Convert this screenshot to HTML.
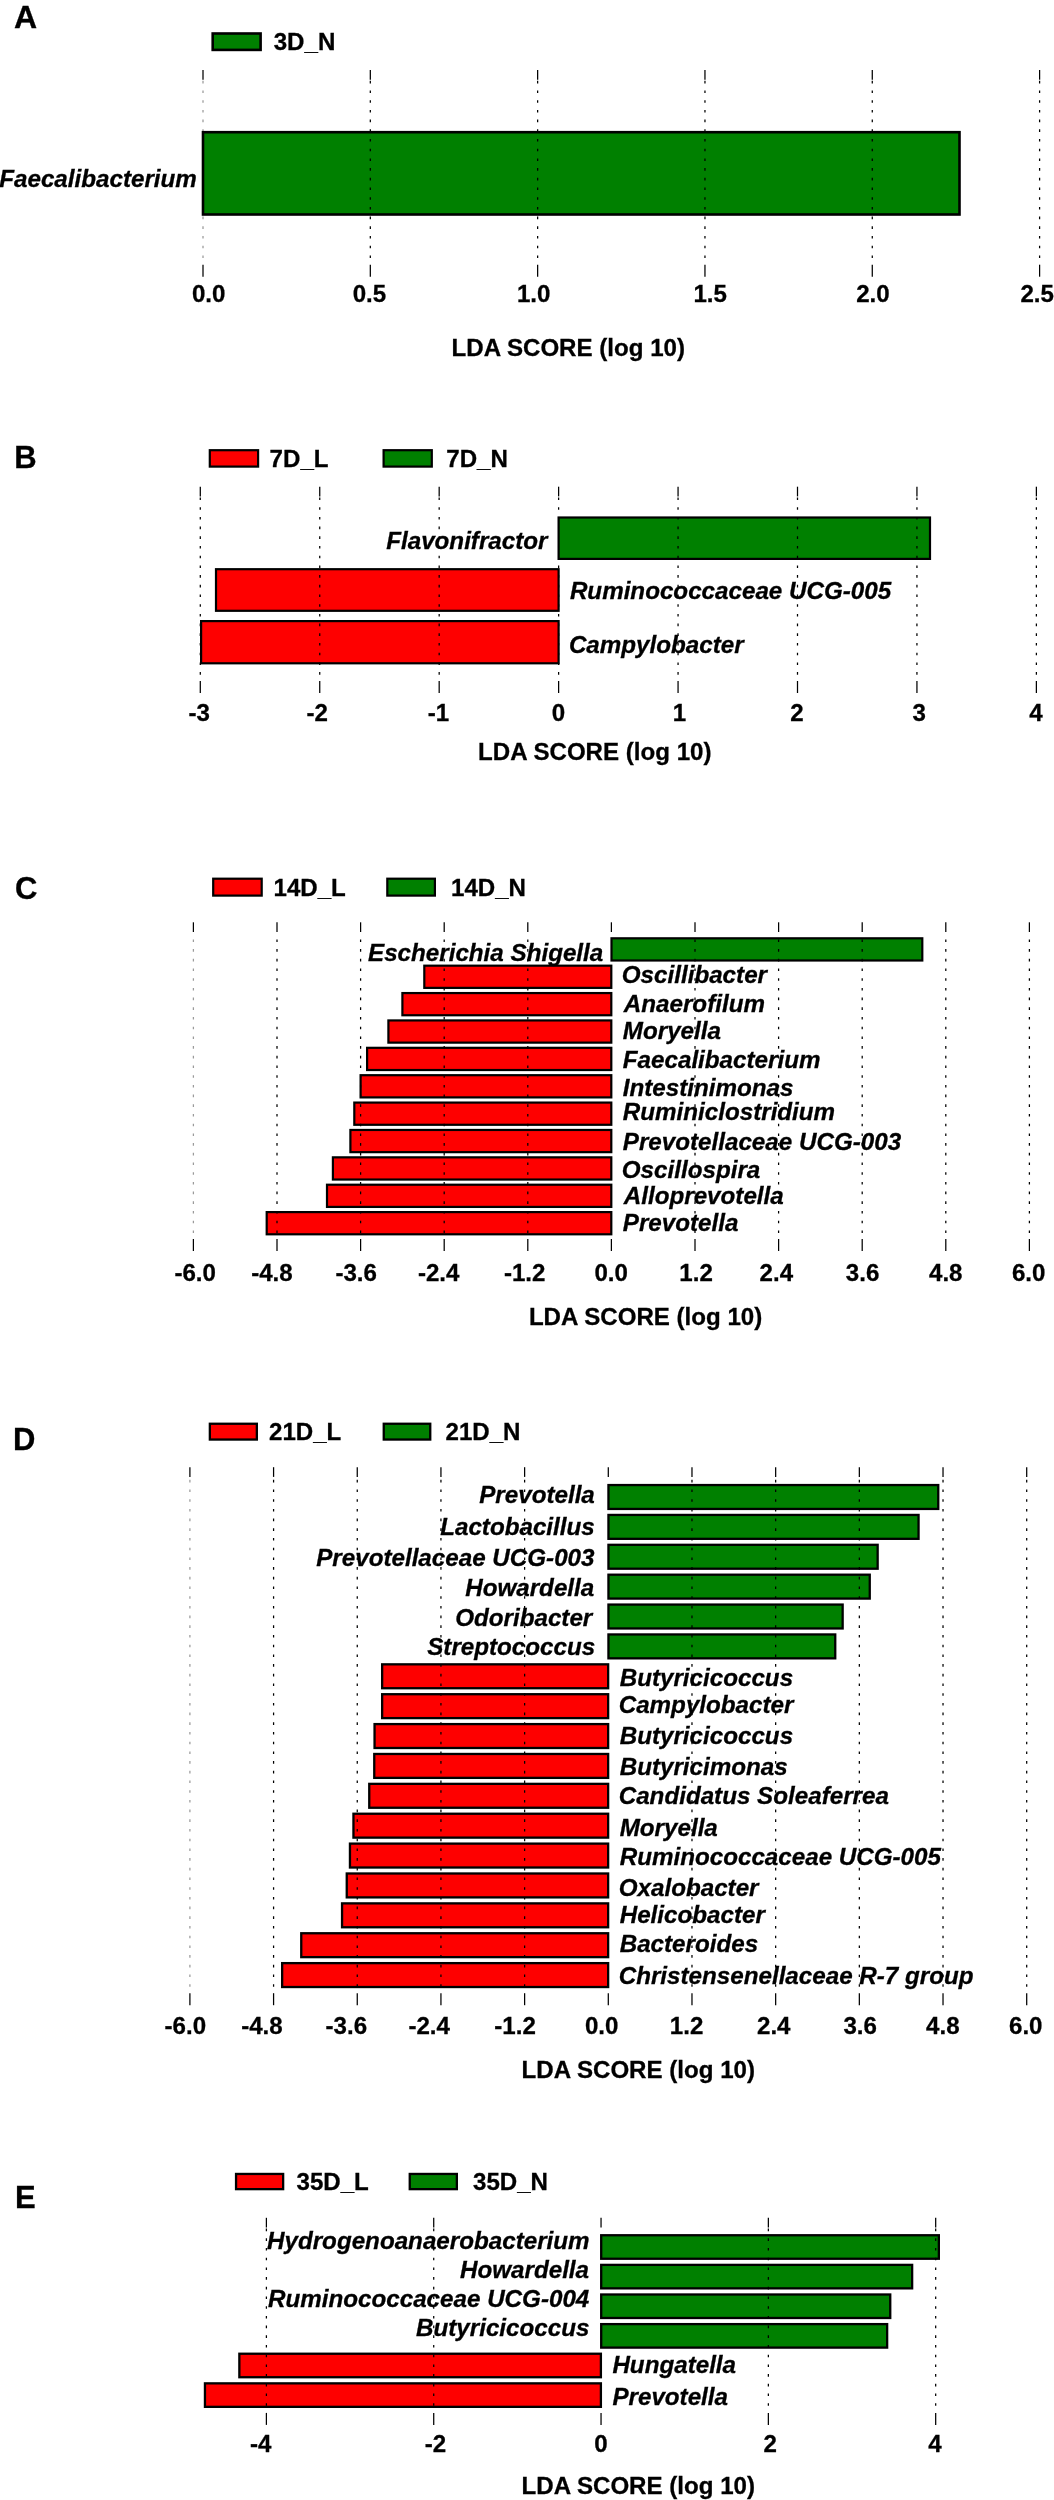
<!DOCTYPE html>
<html><head><meta charset="utf-8"><title>LDA effect size plots</title>
<style>html,body{margin:0;padding:0;background:#fff;width:1054px;height:2500px;overflow:hidden}
svg{display:block;will-change:transform}
text{font-family:"Liberation Sans",sans-serif;font-weight:bold;fill:#000;stroke:#000;stroke-width:0.3px;}
</style></head><body>
<svg width="1054" height="2500" viewBox="0 0 1054 2500">
<rect width="1054" height="2500" fill="#fff"/>
<rect x="212.70" y="33.50" width="47.90" height="16.40" fill="#008000" stroke="#000" stroke-width="2.6"/>
<rect x="209.80" y="450.20" width="48.30" height="16.40" fill="#fe0000" stroke="#000" stroke-width="2.2"/>
<rect x="383.60" y="450.20" width="48.20" height="16.40" fill="#008000" stroke="#000" stroke-width="2.2"/>
<rect x="213.20" y="878.70" width="48.50" height="16.90" fill="#fe0000" stroke="#000" stroke-width="2.2"/>
<rect x="387.30" y="878.70" width="47.60" height="16.90" fill="#008000" stroke="#000" stroke-width="2.2"/>
<rect x="209.85" y="1423.75" width="47.00" height="15.80" fill="#fe0000" stroke="#000" stroke-width="2.3"/>
<rect x="383.75" y="1423.75" width="46.50" height="15.80" fill="#008000" stroke="#000" stroke-width="2.3"/>
<rect x="236.05" y="2173.95" width="47.10" height="15.20" fill="#fe0000" stroke="#000" stroke-width="2.3"/>
<rect x="409.75" y="2173.95" width="47.10" height="15.20" fill="#008000" stroke="#000" stroke-width="2.3"/>
<line x1="203.00" y1="80.80" x2="203.00" y2="264.70" stroke="#9a9a9a" stroke-width="1.25" stroke-dasharray="2.6 7.1"/>
<line x1="558.62" y1="497.50" x2="558.62" y2="681.00" stroke="#000" stroke-width="1.25" stroke-dasharray="2.6 7.1"/>
<rect x="203.00" y="132.20" width="756.50" height="82.30" fill="#008000" stroke="#000" stroke-width="2.6"/>
<rect x="558.60" y="517.50" width="371.40" height="41.40" fill="#008000" stroke="#000" stroke-width="2.2"/>
<rect x="216.00" y="569.20" width="342.60" height="41.60" fill="#fe0000" stroke="#000" stroke-width="2.2"/>
<rect x="201.10" y="621.10" width="357.50" height="42.20" fill="#fe0000" stroke="#000" stroke-width="2.2"/>
<rect x="611.50" y="938.30" width="310.80" height="22.20" fill="#008000" stroke="#000" stroke-width="2.2"/>
<rect x="424.30" y="965.68" width="187.00" height="22.20" fill="#fe0000" stroke="#000" stroke-width="2.2"/>
<rect x="402.40" y="993.06" width="208.90" height="22.20" fill="#fe0000" stroke="#000" stroke-width="2.2"/>
<rect x="388.40" y="1020.44" width="222.90" height="22.20" fill="#fe0000" stroke="#000" stroke-width="2.2"/>
<rect x="367.10" y="1047.82" width="244.20" height="22.20" fill="#fe0000" stroke="#000" stroke-width="2.2"/>
<rect x="360.60" y="1075.20" width="250.70" height="22.20" fill="#fe0000" stroke="#000" stroke-width="2.2"/>
<rect x="354.30" y="1102.58" width="257.00" height="22.20" fill="#fe0000" stroke="#000" stroke-width="2.2"/>
<rect x="350.40" y="1129.96" width="260.90" height="22.20" fill="#fe0000" stroke="#000" stroke-width="2.2"/>
<rect x="332.90" y="1157.34" width="278.40" height="22.20" fill="#fe0000" stroke="#000" stroke-width="2.2"/>
<rect x="327.00" y="1184.72" width="284.30" height="22.20" fill="#fe0000" stroke="#000" stroke-width="2.2"/>
<rect x="266.70" y="1212.10" width="344.60" height="22.20" fill="#fe0000" stroke="#000" stroke-width="2.2"/>
<rect x="608.45" y="1485.05" width="329.80" height="23.90" fill="#008000" stroke="#000" stroke-width="2.3"/>
<rect x="608.45" y="1514.93" width="310.10" height="23.90" fill="#008000" stroke="#000" stroke-width="2.3"/>
<rect x="608.45" y="1544.81" width="269.20" height="23.90" fill="#008000" stroke="#000" stroke-width="2.3"/>
<rect x="608.45" y="1574.69" width="261.30" height="23.90" fill="#008000" stroke="#000" stroke-width="2.3"/>
<rect x="608.45" y="1604.57" width="234.20" height="23.90" fill="#008000" stroke="#000" stroke-width="2.3"/>
<rect x="608.45" y="1634.45" width="226.80" height="23.90" fill="#008000" stroke="#000" stroke-width="2.3"/>
<rect x="382.15" y="1664.33" width="226.00" height="23.90" fill="#fe0000" stroke="#000" stroke-width="2.3"/>
<rect x="382.15" y="1694.21" width="226.00" height="23.90" fill="#fe0000" stroke="#000" stroke-width="2.3"/>
<rect x="374.55" y="1724.09" width="233.60" height="23.90" fill="#fe0000" stroke="#000" stroke-width="2.3"/>
<rect x="374.25" y="1753.97" width="233.90" height="23.90" fill="#fe0000" stroke="#000" stroke-width="2.3"/>
<rect x="369.25" y="1783.85" width="238.90" height="23.90" fill="#fe0000" stroke="#000" stroke-width="2.3"/>
<rect x="353.45" y="1813.73" width="254.70" height="23.90" fill="#fe0000" stroke="#000" stroke-width="2.3"/>
<rect x="349.95" y="1843.61" width="258.20" height="23.90" fill="#fe0000" stroke="#000" stroke-width="2.3"/>
<rect x="346.75" y="1873.49" width="261.40" height="23.90" fill="#fe0000" stroke="#000" stroke-width="2.3"/>
<rect x="342.05" y="1903.37" width="266.10" height="23.90" fill="#fe0000" stroke="#000" stroke-width="2.3"/>
<rect x="301.25" y="1933.25" width="306.90" height="23.90" fill="#fe0000" stroke="#000" stroke-width="2.3"/>
<rect x="282.15" y="1963.13" width="326.00" height="23.90" fill="#fe0000" stroke="#000" stroke-width="2.3"/>
<rect x="601.19" y="2235.25" width="337.66" height="23.50" fill="#008000" stroke="#000" stroke-width="2.3"/>
<rect x="601.19" y="2264.87" width="310.96" height="23.50" fill="#008000" stroke="#000" stroke-width="2.3"/>
<rect x="601.19" y="2294.49" width="289.06" height="23.50" fill="#008000" stroke="#000" stroke-width="2.3"/>
<rect x="601.19" y="2324.11" width="285.96" height="23.50" fill="#008000" stroke="#000" stroke-width="2.3"/>
<rect x="239.35" y="2353.73" width="361.54" height="23.50" fill="#fe0000" stroke="#000" stroke-width="2.3"/>
<rect x="204.95" y="2383.35" width="395.94" height="23.50" fill="#fe0000" stroke="#000" stroke-width="2.3"/>
<line x1="203.00" y1="70.00" x2="203.00" y2="79.70" stroke="#000" stroke-width="1.25"/>
<line x1="203.00" y1="264.70" x2="203.00" y2="276.70" stroke="#000" stroke-width="1.25"/>
<line x1="370.32" y1="70.00" x2="370.32" y2="79.70" stroke="#000" stroke-width="1.25"/>
<line x1="370.32" y1="264.70" x2="370.32" y2="276.70" stroke="#000" stroke-width="1.25"/>
<line x1="370.32" y1="80.80" x2="370.32" y2="264.70" stroke="#000" stroke-width="1.25" stroke-dasharray="2.6 7.1"/>
<line x1="537.64" y1="70.00" x2="537.64" y2="79.70" stroke="#000" stroke-width="1.25"/>
<line x1="537.64" y1="264.70" x2="537.64" y2="276.70" stroke="#000" stroke-width="1.25"/>
<line x1="537.64" y1="80.80" x2="537.64" y2="264.70" stroke="#000" stroke-width="1.25" stroke-dasharray="2.6 7.1"/>
<line x1="704.96" y1="70.00" x2="704.96" y2="79.70" stroke="#000" stroke-width="1.25"/>
<line x1="704.96" y1="264.70" x2="704.96" y2="276.70" stroke="#000" stroke-width="1.25"/>
<line x1="704.96" y1="80.80" x2="704.96" y2="264.70" stroke="#000" stroke-width="1.25" stroke-dasharray="2.6 7.1"/>
<line x1="872.28" y1="70.00" x2="872.28" y2="79.70" stroke="#000" stroke-width="1.25"/>
<line x1="872.28" y1="264.70" x2="872.28" y2="276.70" stroke="#000" stroke-width="1.25"/>
<line x1="872.28" y1="80.80" x2="872.28" y2="264.70" stroke="#000" stroke-width="1.25" stroke-dasharray="2.6 7.1"/>
<line x1="1039.60" y1="70.00" x2="1039.60" y2="79.70" stroke="#000" stroke-width="1.25"/>
<line x1="1039.60" y1="264.70" x2="1039.60" y2="276.70" stroke="#000" stroke-width="1.25"/>
<line x1="1039.60" y1="80.80" x2="1039.60" y2="264.70" stroke="#000" stroke-width="1.25" stroke-dasharray="2.6 7.1"/>
<line x1="200.30" y1="486.70" x2="200.30" y2="496.40" stroke="#000" stroke-width="1.25"/>
<line x1="200.30" y1="681.00" x2="200.30" y2="693.00" stroke="#000" stroke-width="1.25"/>
<line x1="200.30" y1="497.50" x2="200.30" y2="681.00" stroke="#000" stroke-width="1.25" stroke-dasharray="2.6 7.1"/>
<line x1="319.74" y1="486.70" x2="319.74" y2="496.40" stroke="#000" stroke-width="1.25"/>
<line x1="319.74" y1="681.00" x2="319.74" y2="693.00" stroke="#000" stroke-width="1.25"/>
<line x1="319.74" y1="497.50" x2="319.74" y2="681.00" stroke="#000" stroke-width="1.25" stroke-dasharray="2.6 7.1"/>
<line x1="439.18" y1="486.70" x2="439.18" y2="496.40" stroke="#000" stroke-width="1.25"/>
<line x1="439.18" y1="681.00" x2="439.18" y2="693.00" stroke="#000" stroke-width="1.25"/>
<line x1="439.18" y1="497.50" x2="439.18" y2="681.00" stroke="#000" stroke-width="1.25" stroke-dasharray="2.6 7.1"/>
<line x1="558.62" y1="486.70" x2="558.62" y2="496.40" stroke="#000" stroke-width="1.25"/>
<line x1="558.62" y1="681.00" x2="558.62" y2="693.00" stroke="#000" stroke-width="1.25"/>
<line x1="678.06" y1="486.70" x2="678.06" y2="496.40" stroke="#000" stroke-width="1.25"/>
<line x1="678.06" y1="681.00" x2="678.06" y2="693.00" stroke="#000" stroke-width="1.25"/>
<line x1="678.06" y1="497.50" x2="678.06" y2="681.00" stroke="#000" stroke-width="1.25" stroke-dasharray="2.6 7.1"/>
<line x1="797.50" y1="486.70" x2="797.50" y2="496.40" stroke="#000" stroke-width="1.25"/>
<line x1="797.50" y1="681.00" x2="797.50" y2="693.00" stroke="#000" stroke-width="1.25"/>
<line x1="797.50" y1="497.50" x2="797.50" y2="681.00" stroke="#000" stroke-width="1.25" stroke-dasharray="2.6 7.1"/>
<line x1="916.94" y1="486.70" x2="916.94" y2="496.40" stroke="#000" stroke-width="1.25"/>
<line x1="916.94" y1="681.00" x2="916.94" y2="693.00" stroke="#000" stroke-width="1.25"/>
<line x1="916.94" y1="497.50" x2="916.94" y2="681.00" stroke="#000" stroke-width="1.25" stroke-dasharray="2.6 7.1"/>
<line x1="1036.38" y1="486.70" x2="1036.38" y2="496.40" stroke="#000" stroke-width="1.25"/>
<line x1="1036.38" y1="681.00" x2="1036.38" y2="693.00" stroke="#000" stroke-width="1.25"/>
<line x1="1036.38" y1="497.50" x2="1036.38" y2="681.00" stroke="#000" stroke-width="1.25" stroke-dasharray="2.6 7.1"/>
<line x1="193.40" y1="922.30" x2="193.40" y2="932.00" stroke="#000" stroke-width="1.25"/>
<line x1="193.40" y1="1239.00" x2="193.40" y2="1251.00" stroke="#000" stroke-width="1.25"/>
<line x1="193.40" y1="939.40" x2="193.40" y2="1239.00" stroke="#9a9a9a" stroke-width="1.25" stroke-dasharray="2.6 7.1"/>
<line x1="277.00" y1="922.30" x2="277.00" y2="932.00" stroke="#000" stroke-width="1.25"/>
<line x1="277.00" y1="1239.00" x2="277.00" y2="1251.00" stroke="#000" stroke-width="1.25"/>
<line x1="277.00" y1="939.40" x2="277.00" y2="1239.00" stroke="#000" stroke-width="1.25" stroke-dasharray="2.6 7.1"/>
<line x1="360.60" y1="922.30" x2="360.60" y2="932.00" stroke="#000" stroke-width="1.25"/>
<line x1="360.60" y1="1239.00" x2="360.60" y2="1251.00" stroke="#000" stroke-width="1.25"/>
<line x1="360.60" y1="939.40" x2="360.60" y2="1239.00" stroke="#000" stroke-width="1.25" stroke-dasharray="2.6 7.1"/>
<line x1="444.20" y1="922.30" x2="444.20" y2="932.00" stroke="#000" stroke-width="1.25"/>
<line x1="444.20" y1="1239.00" x2="444.20" y2="1251.00" stroke="#000" stroke-width="1.25"/>
<line x1="444.20" y1="939.40" x2="444.20" y2="1239.00" stroke="#000" stroke-width="1.25" stroke-dasharray="2.6 7.1"/>
<line x1="527.80" y1="922.30" x2="527.80" y2="932.00" stroke="#000" stroke-width="1.25"/>
<line x1="527.80" y1="1239.00" x2="527.80" y2="1251.00" stroke="#000" stroke-width="1.25"/>
<line x1="527.80" y1="939.40" x2="527.80" y2="1239.00" stroke="#000" stroke-width="1.25" stroke-dasharray="2.6 7.1"/>
<line x1="611.40" y1="922.30" x2="611.40" y2="932.00" stroke="#000" stroke-width="1.25"/>
<line x1="611.40" y1="1239.00" x2="611.40" y2="1251.00" stroke="#000" stroke-width="1.25"/>
<line x1="695.00" y1="922.30" x2="695.00" y2="932.00" stroke="#000" stroke-width="1.25"/>
<line x1="695.00" y1="1239.00" x2="695.00" y2="1251.00" stroke="#000" stroke-width="1.25"/>
<line x1="695.00" y1="939.40" x2="695.00" y2="1239.00" stroke="#000" stroke-width="1.25" stroke-dasharray="2.6 7.1"/>
<line x1="778.60" y1="922.30" x2="778.60" y2="932.00" stroke="#000" stroke-width="1.25"/>
<line x1="778.60" y1="1239.00" x2="778.60" y2="1251.00" stroke="#000" stroke-width="1.25"/>
<line x1="778.60" y1="939.40" x2="778.60" y2="1239.00" stroke="#000" stroke-width="1.25" stroke-dasharray="2.6 7.1"/>
<line x1="862.20" y1="922.30" x2="862.20" y2="932.00" stroke="#000" stroke-width="1.25"/>
<line x1="862.20" y1="1239.00" x2="862.20" y2="1251.00" stroke="#000" stroke-width="1.25"/>
<line x1="862.20" y1="939.40" x2="862.20" y2="1239.00" stroke="#000" stroke-width="1.25" stroke-dasharray="2.6 7.1"/>
<line x1="945.80" y1="922.30" x2="945.80" y2="932.00" stroke="#000" stroke-width="1.25"/>
<line x1="945.80" y1="1239.00" x2="945.80" y2="1251.00" stroke="#000" stroke-width="1.25"/>
<line x1="945.80" y1="939.40" x2="945.80" y2="1239.00" stroke="#000" stroke-width="1.25" stroke-dasharray="2.6 7.1"/>
<line x1="1029.40" y1="922.30" x2="1029.40" y2="932.00" stroke="#000" stroke-width="1.25"/>
<line x1="1029.40" y1="1239.00" x2="1029.40" y2="1251.00" stroke="#000" stroke-width="1.25"/>
<line x1="1029.40" y1="939.40" x2="1029.40" y2="1239.00" stroke="#000" stroke-width="1.25" stroke-dasharray="2.6 7.1"/>
<line x1="189.90" y1="1467.20" x2="189.90" y2="1476.90" stroke="#000" stroke-width="1.25"/>
<line x1="189.90" y1="1993.20" x2="189.90" y2="2005.20" stroke="#000" stroke-width="1.25"/>
<line x1="189.90" y1="1479.80" x2="189.90" y2="1993.20" stroke="#9a9a9a" stroke-width="1.25" stroke-dasharray="2.6 7.1"/>
<line x1="273.58" y1="1467.20" x2="273.58" y2="1476.90" stroke="#000" stroke-width="1.25"/>
<line x1="273.58" y1="1993.20" x2="273.58" y2="2005.20" stroke="#000" stroke-width="1.25"/>
<line x1="273.58" y1="1479.80" x2="273.58" y2="1993.20" stroke="#000" stroke-width="1.25" stroke-dasharray="2.6 7.1"/>
<line x1="357.26" y1="1467.20" x2="357.26" y2="1476.90" stroke="#000" stroke-width="1.25"/>
<line x1="357.26" y1="1993.20" x2="357.26" y2="2005.20" stroke="#000" stroke-width="1.25"/>
<line x1="357.26" y1="1479.80" x2="357.26" y2="1993.20" stroke="#000" stroke-width="1.25" stroke-dasharray="2.6 7.1"/>
<line x1="440.94" y1="1467.20" x2="440.94" y2="1476.90" stroke="#000" stroke-width="1.25"/>
<line x1="440.94" y1="1993.20" x2="440.94" y2="2005.20" stroke="#000" stroke-width="1.25"/>
<line x1="440.94" y1="1479.80" x2="440.94" y2="1993.20" stroke="#000" stroke-width="1.25" stroke-dasharray="2.6 7.1"/>
<line x1="524.62" y1="1467.20" x2="524.62" y2="1476.90" stroke="#000" stroke-width="1.25"/>
<line x1="524.62" y1="1993.20" x2="524.62" y2="2005.20" stroke="#000" stroke-width="1.25"/>
<line x1="524.62" y1="1479.80" x2="524.62" y2="1993.20" stroke="#000" stroke-width="1.25" stroke-dasharray="2.6 7.1"/>
<line x1="608.30" y1="1467.20" x2="608.30" y2="1476.90" stroke="#000" stroke-width="1.25"/>
<line x1="608.30" y1="1993.20" x2="608.30" y2="2005.20" stroke="#000" stroke-width="1.25"/>
<line x1="691.98" y1="1467.20" x2="691.98" y2="1476.90" stroke="#000" stroke-width="1.25"/>
<line x1="691.98" y1="1993.20" x2="691.98" y2="2005.20" stroke="#000" stroke-width="1.25"/>
<line x1="691.98" y1="1479.80" x2="691.98" y2="1993.20" stroke="#000" stroke-width="1.25" stroke-dasharray="2.6 7.1"/>
<line x1="775.66" y1="1467.20" x2="775.66" y2="1476.90" stroke="#000" stroke-width="1.25"/>
<line x1="775.66" y1="1993.20" x2="775.66" y2="2005.20" stroke="#000" stroke-width="1.25"/>
<line x1="775.66" y1="1479.80" x2="775.66" y2="1993.20" stroke="#000" stroke-width="1.25" stroke-dasharray="2.6 7.1"/>
<line x1="859.34" y1="1467.20" x2="859.34" y2="1476.90" stroke="#000" stroke-width="1.25"/>
<line x1="859.34" y1="1993.20" x2="859.34" y2="2005.20" stroke="#000" stroke-width="1.25"/>
<line x1="859.34" y1="1479.80" x2="859.34" y2="1993.20" stroke="#000" stroke-width="1.25" stroke-dasharray="2.6 7.1"/>
<line x1="943.02" y1="1467.20" x2="943.02" y2="1476.90" stroke="#000" stroke-width="1.25"/>
<line x1="943.02" y1="1993.20" x2="943.02" y2="2005.20" stroke="#000" stroke-width="1.25"/>
<line x1="943.02" y1="1479.80" x2="943.02" y2="1993.20" stroke="#000" stroke-width="1.25" stroke-dasharray="2.6 7.1"/>
<line x1="1026.70" y1="1467.20" x2="1026.70" y2="1476.90" stroke="#000" stroke-width="1.25"/>
<line x1="1026.70" y1="1993.20" x2="1026.70" y2="2005.20" stroke="#000" stroke-width="1.25"/>
<line x1="1026.70" y1="1479.80" x2="1026.70" y2="1993.20" stroke="#000" stroke-width="1.25" stroke-dasharray="2.6 7.1"/>
<line x1="266.40" y1="2217.80" x2="266.40" y2="2227.50" stroke="#000" stroke-width="1.25"/>
<line x1="266.40" y1="2412.90" x2="266.40" y2="2424.90" stroke="#000" stroke-width="1.25"/>
<line x1="266.40" y1="2228.60" x2="266.40" y2="2412.90" stroke="#000" stroke-width="1.25" stroke-dasharray="2.6 7.1"/>
<line x1="433.72" y1="2217.80" x2="433.72" y2="2227.50" stroke="#000" stroke-width="1.25"/>
<line x1="433.72" y1="2412.90" x2="433.72" y2="2424.90" stroke="#000" stroke-width="1.25"/>
<line x1="433.72" y1="2228.60" x2="433.72" y2="2412.90" stroke="#000" stroke-width="1.25" stroke-dasharray="2.6 7.1"/>
<line x1="601.04" y1="2217.80" x2="601.04" y2="2227.50" stroke="#000" stroke-width="1.25"/>
<line x1="601.04" y1="2412.90" x2="601.04" y2="2424.90" stroke="#000" stroke-width="1.25"/>
<line x1="768.36" y1="2217.80" x2="768.36" y2="2227.50" stroke="#000" stroke-width="1.25"/>
<line x1="768.36" y1="2412.90" x2="768.36" y2="2424.90" stroke="#000" stroke-width="1.25"/>
<line x1="768.36" y1="2228.60" x2="768.36" y2="2412.90" stroke="#000" stroke-width="1.25" stroke-dasharray="2.6 7.1"/>
<line x1="935.68" y1="2217.80" x2="935.68" y2="2227.50" stroke="#000" stroke-width="1.25"/>
<line x1="935.68" y1="2412.90" x2="935.68" y2="2424.90" stroke="#000" stroke-width="1.25"/>
<line x1="935.68" y1="2228.60" x2="935.68" y2="2412.90" stroke="#000" stroke-width="1.25" stroke-dasharray="2.6 7.1"/>
<text x="14.10" y="27.80" font-size="32">A</text>
<text x="273.70" y="50.20" font-size="24.1">3D_N</text>
<text x="-0.80" y="186.70" font-style="italic" font-size="24.2">Faecalibacterium</text>
<text x="191.90" y="302.30" font-size="24.1">0.0</text>
<text x="352.70" y="302.30" font-size="24.1">0.5</text>
<text x="516.90" y="302.30" font-size="24.1">1.0</text>
<text x="693.40" y="302.30" font-size="24.1">1.5</text>
<text x="856.20" y="302.30" font-size="24.1">2.0</text>
<text x="1020.40" y="302.30" font-size="24.1">2.5</text>
<text x="451.60" y="356.30" font-size="24.1">LDA SCORE (log 10)</text>
<text x="14.30" y="468.20" font-size="31">B</text>
<text x="269.60" y="466.90" font-size="24.1">7D_L</text>
<text x="446.30" y="466.90" font-size="24.1">7D_N</text>
<text x="386.20" y="548.50" font-style="italic" font-size="24.2">Flavonifractor</text>
<text x="569.90" y="598.90" font-style="italic" font-size="24.2">Ruminococcaceae UCG-005</text>
<text x="568.90" y="653.00" font-style="italic" font-size="24.2">Campylobacter</text>
<text x="188.50" y="720.80" font-size="24.1">-3</text>
<text x="306.40" y="720.80" font-size="24.1">-2</text>
<text x="427.70" y="720.80" font-size="24.1">-1</text>
<text x="551.70" y="720.80" font-size="24.1">0</text>
<text x="672.70" y="720.80" font-size="24.1">1</text>
<text x="790.20" y="720.80" font-size="24.1">2</text>
<text x="912.50" y="720.80" font-size="24.1">3</text>
<text x="1029.20" y="720.80" font-size="24.1">4</text>
<text x="478.10" y="759.80" font-size="24.1">LDA SCORE (log 10)</text>
<text x="15.00" y="898.60" font-size="31">C</text>
<text x="273.50" y="895.70" font-size="24.1">14D_L</text>
<text x="451.00" y="895.70" font-size="24.1">14D_N</text>
<text x="368.00" y="960.70" font-style="italic" font-size="24.2">Escherichia Shigella</text>
<text x="621.80" y="983.20" font-style="italic" font-size="24.2">Oscillibacter</text>
<text x="623.80" y="1012.10" font-style="italic" font-size="24.2">Anaerofilum</text>
<text x="622.80" y="1039.10" font-style="italic" font-size="24.2">Moryella</text>
<text x="622.80" y="1068.20" font-style="italic" font-size="24.2">Faecalibacterium</text>
<text x="622.80" y="1095.50" font-style="italic" font-size="24.2">Intestinimonas</text>
<text x="622.80" y="1120.40" font-style="italic" font-size="24.2">Ruminiclostridium</text>
<text x="622.80" y="1149.90" font-style="italic" font-size="24.2">Prevotellaceae UCG-003</text>
<text x="621.80" y="1177.50" font-style="italic" font-size="24.2">Oscillospira</text>
<text x="623.80" y="1203.90" font-style="italic" font-size="24.2">Alloprevotella</text>
<text x="622.80" y="1230.70" font-style="italic" font-size="24.2">Prevotella</text>
<text x="174.40" y="1280.70" font-size="24.1">-6.0</text>
<text x="251.20" y="1280.70" font-size="24.1">-4.8</text>
<text x="335.40" y="1280.70" font-size="24.1">-3.6</text>
<text x="417.90" y="1280.70" font-size="24.1">-2.4</text>
<text x="503.90" y="1280.70" font-size="24.1">-1.2</text>
<text x="594.40" y="1280.70" font-size="24.1">0.0</text>
<text x="679.30" y="1280.70" font-size="24.1">1.2</text>
<text x="759.60" y="1280.70" font-size="24.1">2.4</text>
<text x="845.80" y="1280.70" font-size="24.1">3.6</text>
<text x="929.00" y="1280.70" font-size="24.1">4.8</text>
<text x="1011.90" y="1280.70" font-size="24.1">6.0</text>
<text x="528.90" y="1324.80" font-size="24.1">LDA SCORE (log 10)</text>
<text x="13.00" y="1450.20" font-size="31">D</text>
<text x="269.00" y="1440.00" font-size="24.1">21D_L</text>
<text x="445.50" y="1440.00" font-size="24.1">21D_N</text>
<text x="479.20" y="1503.40" font-style="italic" font-size="24.2">Prevotella</text>
<text x="440.20" y="1535.20" font-style="italic" font-size="24.2">Lactobacillus</text>
<text x="316.20" y="1566.00" font-style="italic" font-size="24.2">Prevotellaceae UCG-003</text>
<text x="465.20" y="1596.40" font-style="italic" font-size="24.2">Howardella</text>
<text x="455.20" y="1625.70" font-style="italic" font-size="24.2">Odoribacter</text>
<text x="427.20" y="1654.50" font-style="italic" font-size="24.2">Streptococcus</text>
<text x="619.70" y="1685.60" font-style="italic" font-size="24.2">Butyricicoccus</text>
<text x="618.70" y="1713.30" font-style="italic" font-size="24.2">Campylobacter</text>
<text x="619.70" y="1743.70" font-style="italic" font-size="24.2">Butyricicoccus</text>
<text x="619.70" y="1774.80" font-style="italic" font-size="24.2">Butyricimonas</text>
<text x="618.70" y="1804.40" font-style="italic" font-size="24.2">Candidatus Soleaferrea</text>
<text x="619.70" y="1835.90" font-style="italic" font-size="24.2">Moryella</text>
<text x="619.70" y="1865.10" font-style="italic" font-size="24.2">Ruminococcaceae UCG-005</text>
<text x="618.70" y="1895.50" font-style="italic" font-size="24.2">Oxalobacter</text>
<text x="619.70" y="1922.80" font-style="italic" font-size="24.2">Helicobacter</text>
<text x="619.70" y="1952.40" font-style="italic" font-size="24.2">Bacteroides</text>
<text x="618.70" y="1983.50" font-style="italic" font-size="24.2">Christensenellaceae R-7 group</text>
<text x="164.60" y="2033.80" font-size="24.1">-6.0</text>
<text x="241.20" y="2033.80" font-size="24.1">-4.8</text>
<text x="325.60" y="2033.80" font-size="24.1">-3.6</text>
<text x="408.40" y="2033.80" font-size="24.1">-2.4</text>
<text x="494.30" y="2033.80" font-size="24.1">-1.2</text>
<text x="584.90" y="2033.80" font-size="24.1">0.0</text>
<text x="669.80" y="2033.80" font-size="24.1">1.2</text>
<text x="757.00" y="2033.80" font-size="24.1">2.4</text>
<text x="843.40" y="2033.80" font-size="24.1">3.6</text>
<text x="926.10" y="2033.80" font-size="24.1">4.8</text>
<text x="1009.00" y="2033.80" font-size="24.1">6.0</text>
<text x="521.60" y="2077.80" font-size="24.1">LDA SCORE (log 10)</text>
<text x="15.00" y="2207.80" font-size="31">E</text>
<text x="296.50" y="2189.50" font-size="24.1">35D_L</text>
<text x="473.00" y="2189.50" font-size="24.1">35D_N</text>
<text x="267.00" y="2248.70" font-style="italic" font-size="24.2">Hydrogenoanaerobacterium</text>
<text x="460.00" y="2278.00" font-style="italic" font-size="24.2">Howardella</text>
<text x="268.00" y="2307.20" font-style="italic" font-size="24.2">Ruminococcaceae UCG-004</text>
<text x="416.00" y="2336.00" font-style="italic" font-size="24.2">Butyricicoccus</text>
<text x="612.40" y="2373.20" font-style="italic" font-size="24.2">Hungatella</text>
<text x="612.40" y="2404.70" font-style="italic" font-size="24.2">Prevotella</text>
<text x="249.90" y="2452.00" font-size="24.1">-4</text>
<text x="424.70" y="2452.00" font-size="24.1">-2</text>
<text x="594.20" y="2452.00" font-size="24.1">0</text>
<text x="763.50" y="2452.00" font-size="24.1">2</text>
<text x="928.30" y="2452.00" font-size="24.1">4</text>
<text x="521.60" y="2493.90" font-size="24.1">LDA SCORE (log 10)</text>
</svg>
</body></html>
